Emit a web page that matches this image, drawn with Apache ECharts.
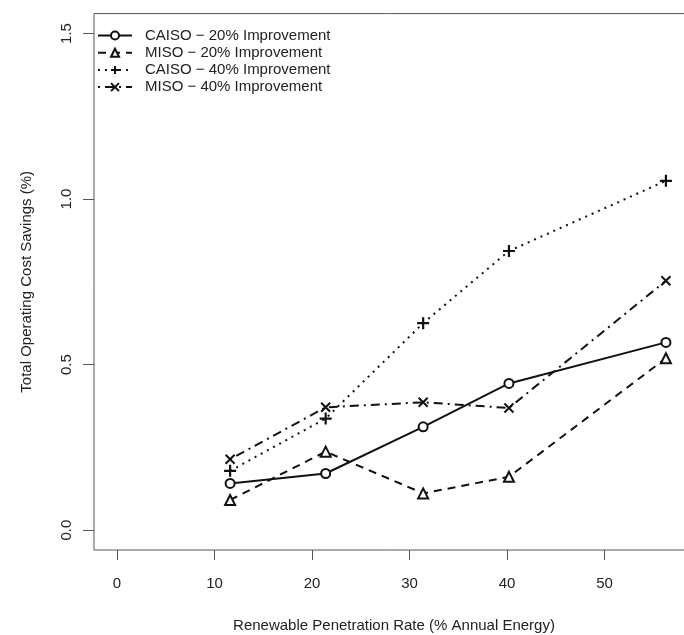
<!DOCTYPE html>
<html>
<head>
<meta charset="utf-8">
<title>Total Operating Cost Savings</title>
<script src="https://cdn.jsdelivr.net/npm/echarts@6/dist/echarts.min.js"></script>
<style>
	* { margin: 0; padding: 0 }
	html, body { width: 100%; height: 100%; background: #fff; }
	#main { width: 684px; height: 635px; }
</style>
</head>
<body>
<div id="main"></div>
<script type="text/javascript">
	// penetration rate (% annual energy) for each scenario point
	var penetration = [11.6, 21.4, 31.4, 40.2, 56.3];

	// total operating cost savings (%)
	var caiso20 = [0.141, 0.171, 0.312, 0.443, 0.567];
	var miso20 = [0.091, 0.237, 0.111, 0.161, 0.519];
	var caiso40 = [0.179, 0.337, 0.625, 0.843, 1.055];
	var miso40 = [0.214, 0.371, 0.386, 0.369, 0.753];

	var seriesNames = ['CAISO \u2212 20% Improvement', 'MISO \u2212 20% Improvement',
		'CAISO \u2212 40% Improvement', 'MISO \u2212 40% Improvement'];

	var xTicks = [0, 10, 20, 30, 40, 50];
	var yTicks = [0, 0.5, 1.0, 1.5];

	var ink = '#111';
	var font = 'Liberation Sans, Arial, sans-serif';

	function pairs(ys) {
		return penetration.map(function(x, i) { return [x, ys[i]]; });
	}

	var plusPath = 'path://M5,0 L5,10 M0,5 L10,5';
	var crossPath = 'path://M0,0 L10,10 M10,0 L0,10';

	var chart = echarts.init(document.getElementById('main'));
	chart.setOption({
		backgroundColor: '#fff',
		animation: false,
		textStyle: { fontFamily: font },
		// plot box runs a little past the right edge of the picture
		grid: {
			left: 94, width: 600, top: 13.6, bottom: 85,
			outerBoundsMode: 'none', containLabel: false,
			show: true, borderColor: '#555', borderWidth: 1, backgroundColor: 'transparent'
		},
		legend: {
			left: 92, top: 23, orient: 'vertical',
			itemWidth: 34, itemHeight: 10, itemGap: 2.2,
			textStyle: { fontSize: 15, color: '#222', fontFamily: font, padding: [0, 0, 0, 8] },
			data: seriesNames
		},
		xAxis: {
			type: 'value', min: -2.36, max: 59.18,
			name: 'Renewable Penetration Rate (% Annual Energy)',
			nameLocation: 'middle', nameGap: 68,
			nameTextStyle: { fontSize: 15, color: '#222', fontFamily: font },
			splitLine: { show: false },
			axisLine: { show: false, onZero: false },
			axisTick: { show: true, inside: false, length: 10, lineStyle: { color: '#555' }, customValues: xTicks },
			axisLabel: { fontSize: 15, color: '#222', margin: 26, customValues: xTicks, formatter: function(v) { return String(v); } }
		},
		yAxis: {
			type: 'value', min: -0.06, max: 1.56,
			name: 'Total Operating Cost Savings (%)',
			nameLocation: 'middle', nameGap: 60,
			nameTextStyle: { fontSize: 15, color: '#222', fontFamily: font },
			splitLine: { show: false },
			axisLine: { show: false, onZero: false },
			axisTick: { show: true, inside: false, length: 11, lineStyle: { color: '#555' }, customValues: yTicks },
			axisLabel: { fontSize: 15, color: '#222', margin: 20, rotate: 90, customValues: yTicks, formatter: function(v) { return v.toFixed(1); } }
		},
		series: [{
			name: seriesNames[0], type: 'line', data: pairs(caiso20),
			symbol: 'emptyCircle', symbolSize: 9,
			lineStyle: { color: ink, width: 2, type: 'solid' },
			itemStyle: { color: ink, borderColor: ink, borderWidth: 1.5 }
		}, {
			name: seriesNames[1], type: 'line', data: pairs(miso20),
			symbol: 'emptyTriangle', symbolSize: 10,
			lineStyle: { color: ink, width: 2, type: [8, 6] },
			itemStyle: { color: ink, borderColor: ink, borderWidth: 1.5 }
		}, {
			name: seriesNames[2], type: 'line', data: pairs(caiso40),
			symbol: plusPath, symbolSize: 12,
			lineStyle: { color: ink, width: 2, type: [2, 5] },
			itemStyle: { color: ink, borderColor: ink, borderWidth: 2.2 }
		}, {
			name: seriesNames[3], type: 'line', data: pairs(miso40),
			symbol: crossPath, symbolSize: 9,
			lineStyle: { color: ink, width: 2, type: [2, 5, 9, 5] },
			itemStyle: { color: ink, borderColor: ink, borderWidth: 2 }
		}]
	});
</script>
</body>
</html>
